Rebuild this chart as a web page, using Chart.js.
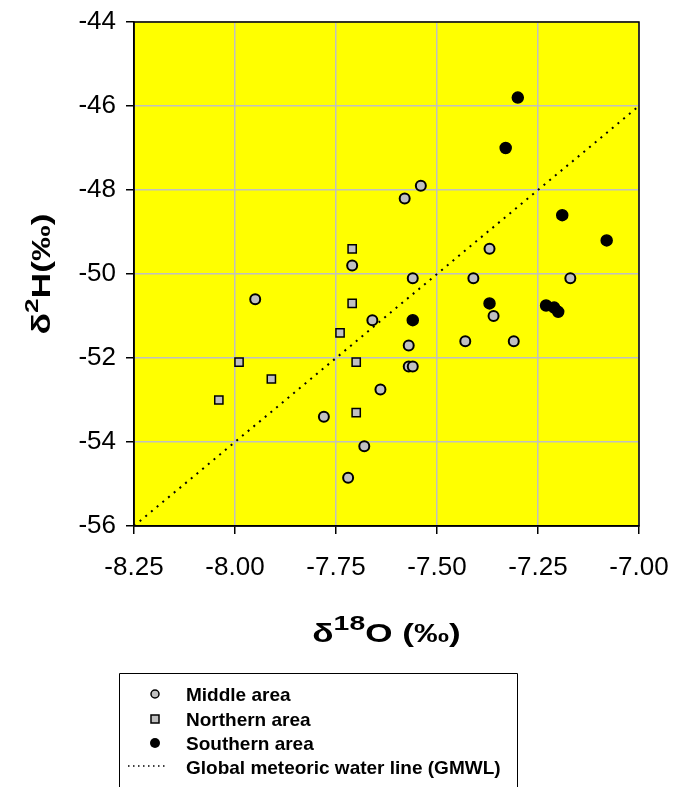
<!DOCTYPE html>
<html>
<head>
<meta charset="utf-8">
<script src="https://cdn.jsdelivr.net/npm/chart.js@4.4.1/dist/chart.umd.min.js"></script>
<style>
  html, body { margin: 0; padding: 0; background: #fff; }
  canvas { display: block; }
</style>
</head>
<body>
<canvas id="isoChart" width="674" height="787"></canvas>
<script>
// δ18O / δ2H pairs per sampling area
const middleO = [-7.95, -7.78, -7.71, -7.66, -7.64, -7.68, -7.72, -7.54, -7.58, -7.37,
                 -7.56, -7.41, -7.17, -7.36, -7.43, -7.31, -7.57, -7.57, -7.56];
const middleH = [-50.6, -53.4, -49.8, -51.1, -52.75, -54.1, -54.85, -47.9, -48.2, -49.4,
                 -50.1, -50.1, -50.1, -51.0, -51.6, -51.6, -51.7, -52.2, -52.2];

const northernO = [-8.04, -7.99, -7.91, -7.74, -7.71, -7.71, -7.70, -7.70];
const northernH = [-53.0, -52.1, -52.5, -51.4, -49.4, -50.7, -52.1, -53.3];

const southernO = [-7.30, -7.33, -7.19, -7.08, -7.37, -7.23, -7.21, -7.20, -7.56];
const southernH = [-45.8, -47.0, -48.6, -49.2, -50.7, -50.75, -50.8, -50.9, -51.1];

// Global meteoric water line end points
const gmwlO = [-8.25, -7.00];
const gmwlH = [-56, -46];

const xRange = [-8.25, -7.00];
const yRange = [-56, -44];

const FONT = 'Arial, "Liberation Sans", sans-serif';

function pairs(xs, ys) {
    return xs.map((x, i) => ({ x: x, y: ys[i] }));
}

// text with superscripts, widened horizontally like the original titles
function drawStretched(ctx, parts, cx, baseY, sx) {
    let w = 0;
    parts.forEach(p => {
        ctx.font = p.font;
        p.w = ctx.measureText(p.text).width;
        w += p.w;
    });
    ctx.save();
    ctx.translate(cx - w * sx / 2, baseY);
    ctx.scale(sx, 1);
    let x = 0;
    parts.forEach(p => {
        ctx.font = p.font;
        ctx.fillText(p.text, x, -(p.rise || 0));
        x += p.w;
    });
    ctx.restore();
}

const plotBackground = {
    id: 'plotBackground',
    beforeDraw(chart) {
        const { ctx, chartArea: a } = chart;
        ctx.save();
        ctx.fillStyle = '#ffff00';
        ctx.fillRect(a.left, a.top, a.right - a.left, a.bottom - a.top);
        ctx.restore();
    }
};

const decorations = {
    id: 'decorations',
    afterDraw(chart) {
        const { ctx, chartArea: a } = chart;
        ctx.save();

        // frame around plot area
        ctx.strokeStyle = '#000';
        ctx.lineWidth = 1.5;
        ctx.strokeRect(a.left, a.top, a.right - a.left, a.bottom - a.top);

        // axis titles
        ctx.fillStyle = '#000';
        ctx.textAlign = 'left';
        ctx.textBaseline = 'alphabetic';
        const big = 'bold 26px ' + FONT;
        const sup = 'bold 21px ' + FONT;
        drawStretched(ctx, [
            { text: 'δ', font: big },
            { text: '18', font: sup, rise: 12 },
            { text: 'O (‰)', font: big }
        ], (a.left + a.right) / 2, 642, 1.35);

        ctx.save();
        ctx.translate(50, (a.top + a.bottom) / 2);
        ctx.rotate(-Math.PI / 2);
        drawStretched(ctx, [
            { text: 'δ', font: big },
            { text: '2', font: 'bold 19px ' + FONT, rise: 12 },
            { text: 'H(‰)', font: big }
        ], 0, 0, 1.37);
        ctx.restore();

        // legend box (open at the bottom edge)
        ctx.lineWidth = 1;
        ctx.strokeStyle = '#000';
        ctx.beginPath();
        ctx.moveTo(119.5, 787);
        ctx.lineTo(119.5, 673.5);
        ctx.lineTo(517.5, 673.5);
        ctx.lineTo(517.5, 787);
        ctx.stroke();

        ctx.font = 'bold 19px ' + FONT;

        ctx.beginPath();
        ctx.arc(155, 694, 4, 0, Math.PI * 2);
        ctx.fillStyle = '#c0c0c0';
        ctx.fill();
        ctx.lineWidth = 1.5;
        ctx.stroke();

        ctx.fillStyle = '#c0c0c0';
        ctx.fillRect(151, 715, 8, 8);
        ctx.strokeRect(151, 715, 8, 8);

        ctx.beginPath();
        ctx.arc(155, 743, 5, 0, Math.PI * 2);
        ctx.fillStyle = '#000';
        ctx.fill();

        ctx.beginPath();
        ctx.setLineDash([1.5, 3.5]);
        ctx.lineWidth = 1.5;
        ctx.moveTo(128, 766);
        ctx.lineTo(168, 766);
        ctx.stroke();
        ctx.setLineDash([]);

        ctx.fillStyle = '#000';
        ctx.fillText('Middle area', 186, 701);
        ctx.fillText('Northern area', 186, 726);
        ctx.fillText('Southern area', 186, 750);
        ctx.fillText('Global meteoric water line (GMWL)', 186, 774);

        ctx.restore();
    }
};

const ctx = document.getElementById('isoChart').getContext('2d');

new Chart(ctx, {
    type: 'scatter',
    data: {
        datasets: [
            {
                label: 'Middle area',
                data: pairs(middleO, middleH),
                pointStyle: 'circle',
                pointRadius: 5,
                backgroundColor: '#c0c0c0',
                borderColor: '#000',
                borderWidth: 2,
                order: 1
            },
            {
                label: 'Northern area',
                data: pairs(northernO, northernH),
                pointStyle: 'rect',
                pointRadius: 5.8,
                backgroundColor: '#c0c0c0',
                borderColor: '#000',
                borderWidth: 1.5,
                order: 2
            },
            {
                label: 'Southern area',
                data: pairs(southernO, southernH),
                pointStyle: 'circle',
                pointRadius: 5.5,
                backgroundColor: '#000',
                borderColor: '#000',
                borderWidth: 1.5,
                order: 0
            },
            {
                label: 'Global meteoric water line (GMWL)',
                data: pairs(gmwlO, gmwlH),
                showLine: true,
                pointRadius: 0,
                borderColor: '#000',
                borderWidth: 2,
                borderDash: [2, 5.4],
                order: 10
            }
        ]
    },
    options: {
        responsive: false,
        animation: false,
        events: [],
        layout: { padding: { left: 0, top: 22, right: 35, bottom: 201 } },
        plugins: {
            legend: { display: false },
            tooltip: { enabled: false }
        },
        scales: {
            x: {
                type: 'linear',
                min: xRange[0],
                max: xRange[1],
                afterFit: s => {
                    s.height = 60;
                    s.paddingLeft = 0;
                    s.paddingRight = 0;
                },
                ticks: {
                    stepSize: 0.25,
                    color: '#000',
                    padding: 18,
                    maxRotation: 0,
                    font: { family: FONT, size: 26 },
                    callback: v => v.toFixed(2)
                },
                grid: { color: '#c0c0c0', lineWidth: 1.5, tickColor: '#000', tickLength: 8, tickWidth: 1.5 },
                border: { color: '#000', width: 1.5 }
            },
            y: {
                type: 'linear',
                min: yRange[0],
                max: yRange[1],
                afterFit: s => {
                    s.width = 134;
                    s.paddingTop = 0;
                    s.paddingBottom = 0;
                },
                ticks: {
                    stepSize: 2,
                    color: '#000',
                    padding: 10,
                    font: { family: FONT, size: 26 }
                },
                grid: { color: '#c0c0c0', lineWidth: 1.5, tickColor: '#000', tickLength: 8, tickWidth: 1.5 },
                border: { color: '#000', width: 1.5 }
            }
        }
    },
    plugins: [plotBackground, decorations]
});
</script>
</body>
</html>
